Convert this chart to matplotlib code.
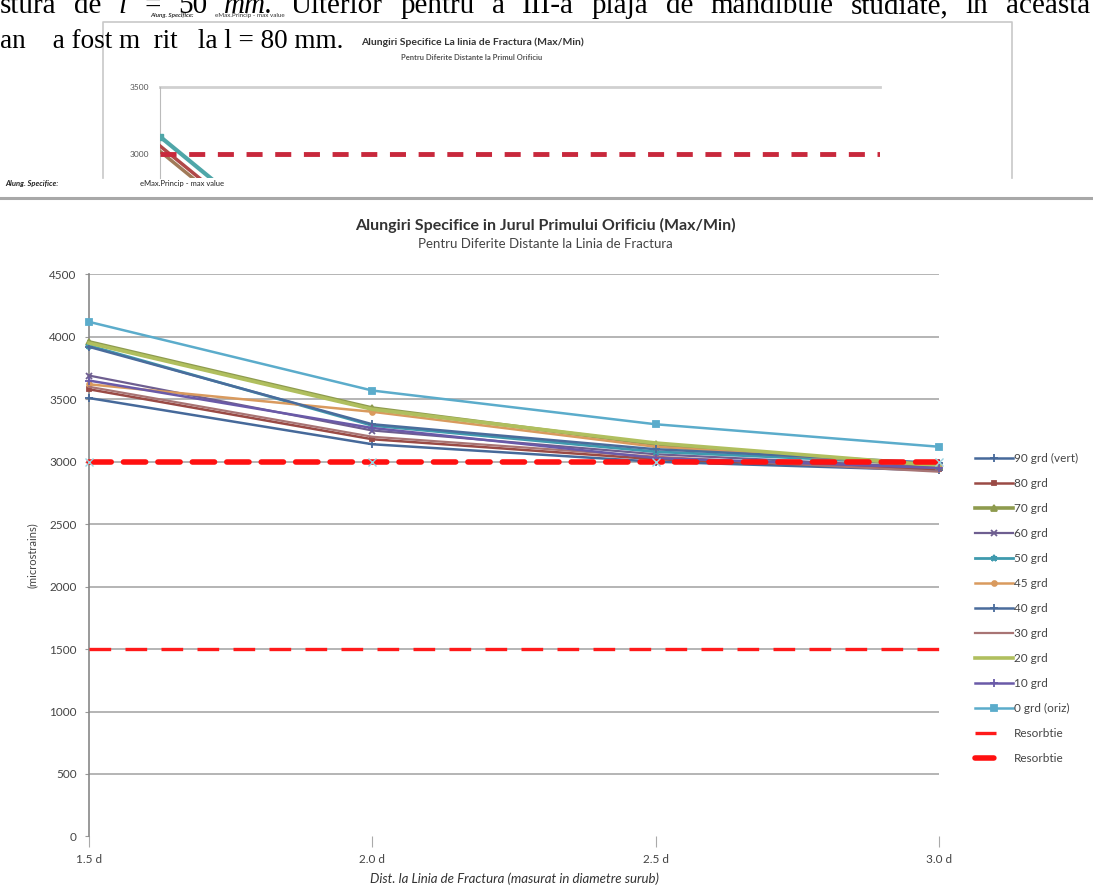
import matplotlib
matplotlib.use('Agg')
import matplotlib.pyplot as plt
from matplotlib.lines import Line2D

W, H = 1093, 888
def fx(x): return x / W
def fy(y): return 1 - y / H

# ---------------- data ----------------
categories = ['1.5 d', '2.0 d', '2.5 d', '3.0 d']
series_labels = ['90 grd (vert)', '80 grd', '70 grd', '60 grd', '50 grd', '45 grd',
                 '40 grd', '30 grd', '20 grd', '10 grd', '0 grd (oriz)']
grd90 = [3510, 3140, 3000, 2930]
grd80 = [3580, 3180, 3020, 2940]
grd70 = [3960, 3430, 3140, 2960]
grd60 = [3690, 3250, 3060, 2950]
grd50 = [3930, 3290, 3080, 2980]
grd45 = [3620, 3400, 3120, 2970]
grd40 = [3920, 3300, 3100, 2990]
grd30 = [3600, 3200, 3040, 2920]
grd20 = [3950, 3420, 3150, 2970]
grd10 = [3650, 3270, 3030, 2950]
grd0 = [4120, 3570, 3300, 3120]
resorbtie_hi = [3000, 3000, 3000, 3000]
resorbtie_lo = [1500, 1500, 1500, 1500]
resorbtie_labels = ['Resorbtie', 'Resorbtie']
yticks = [0, 500, 1000, 1500, 2000, 2500, 3000, 3500, 4000, 4500]

# partially visible chart above (cropped in the document)
upper_yticks = [3000, 3500]
upper_a = [3130, 1660]
upper_b = [3060, 1600]
upper_c = [3020, 1560]
upper_resorbtie = [3000, 3000, 3000, 3000]

# document text
line1_words = ['stura', 'de', 'l', '=', '50', 'mm.', 'Ulterior', 'pentru', 'a', 'III-a',
               'plaja', 'de', 'mandibule', 'studiate,', 'in', 'aceasta']
line1_italic = {2, 5}
line2_text = 'an    a fost m  rit   la l = 80 mm.'

series = [grd90, grd80, grd70, grd60, grd50, grd45, grd40, grd30, grd20, grd10, grd0]
styles = [
    dict(color='#46699A', marker='+', lw=1.8, ms=6),
    dict(color='#9A4A45', marker='s', lw=1.8, ms=3.5),
    dict(color='#8E9B4E', marker='^', lw=2.6, ms=4),
    dict(color='#6E5E90', marker='x', lw=1.6, ms=5),
    dict(color='#3F9AAE', marker='*', lw=2.0, ms=5),
    dict(color='#D99A5E', marker='o', lw=1.8, ms=3.5),
    dict(color='#4A6C9C', marker='+', lw=1.8, ms=6),
    dict(color='#A87474', marker=None, lw=1.6, ms=0),
    dict(color='#B0BF5E', marker=None, lw=2.6, ms=0),
    dict(color='#6A5AA8', marker='+', lw=1.8, ms=6),
    dict(color='#5BACCB', marker='s', lw=1.8, ms=4.5),
]

fig = plt.figure(figsize=(W / 100, H / 100), dpi=100)
fig.patch.set_facecolor('white')
renderer = fig.canvas.get_renderer()

serif = 'Liberation Serif'
sans = 'Lato'

# ---------------- document text on top (justified first line) ----------------
word_artists = []
for i, w in enumerate(line1_words):
    t = fig.text(0, fy(13), w, family=serif, fontsize=21, ha='left', va='baseline',
                 style='italic' if i in line1_italic else 'normal', color='black', zorder=5)
    word_artists.append(t)
widths = [t.get_window_extent(renderer).width for t in word_artists]
left_px, right_px = 0, 1090
gap = (right_px - left_px - sum(widths)) / (len(widths) - 1)
xpos = left_px
for t, wd in zip(word_artists, widths):
    t.set_x(fx(xpos))
    xpos += wd + gap

fig.text(fx(0), fy(48), line2_text, family=serif, fontsize=19.5, ha='left', va='baseline',
         color='black', zorder=5)
fig.text(fx(150), fy(15), 'Alung. Specifice:', family=sans, fontsize=4.5, style='italic',
         weight='bold', ha='left', va='center', color='#333333')
fig.text(fx(215), fy(15), 'eMax.Princip - max value', family=sans, fontsize=4.5,
         ha='left', va='center', color='#333333')

# border of the cropped upper chart
box = Line2D([fx(103), fx(103), fx(1012), fx(1012)], [fy(178), fy(22), fy(22), fy(178)],
             transform=fig.transFigure, color='#C8C8C8', lw=1.2, zorder=1)
fig.add_artist(box)
fig.text(fx(472), fy(42), 'Alungiri Specifice La linia de Fractura (Max/Min)', family=sans,
         fontsize=7.5, weight='bold', ha='center', va='center', color='#333333')
fig.text(fx(472), fy(58), 'Pentru Diferite Distante la Primul Orificiu', family=sans,
         fontsize=5.5, weight='bold', ha='center', va='center', color='#555555')

# upper (cropped) axes
u_top, u_bot = 87, 178
px_per_unit = 67 / 500
u_ymin = 3000 - (u_bot - 154) / px_per_unit
axu = fig.add_axes([fx(160), fy(u_bot), fx(880) - fx(160), fy(u_top) - fy(u_bot)])
axu.set_xlim(0, 3)
axu.set_ylim(u_ymin, 3500)
for s in ['top', 'right', 'bottom']:
    axu.spines[s].set_visible(False)
axu.spines['left'].set_color('#BBBBBB')
axu.set_xticks([])
axu.set_yticks(upper_yticks)
axu.set_yticklabels([str(v) for v in upper_yticks], family=sans, fontsize=6, color='#555555')
axu.tick_params(axis='y', length=0, pad=8)
axu.axhline(3500, color='#D0D0D0', lw=2, zorder=1, clip_on=False)
axu.plot(range(4), upper_resorbtie, color='#C8283C', lw=3.5, dashes=(3.3, 2.6), zorder=4)
axu.plot(range(2), upper_c, color='#A07A58', lw=2.5, zorder=3)
axu.plot(range(2), upper_b, color='#B04848', lw=2.5, zorder=3)
axu.plot(range(2), upper_a, color='#4FA6A8', lw=3, marker='s', ms=4, zorder=3)

fig.text(fx(5), fy(183), 'Alung. Specifice:', family=sans, fontsize=5.5, style='italic',
         weight='bold', ha='left', va='center', color='#222222')
fig.text(fx(140), fy(183), 'eMax.Princip - max value', family=sans, fontsize=5.5,
         ha='left', va='center', color='#222222')

# separator
sep = Line2D([0, 1], [fy(198), fy(198)], transform=fig.transFigure, color='#A8A8A8', lw=2.2)
fig.add_artist(sep)

# ---------------- main chart ----------------
fig.text(fx(545), fy(225), 'Alungiri Specifice in Jurul Primului Orificiu (Max/Min)',
         family=sans, fontsize=11.5, weight='bold', ha='center', va='center', color='#333333')
fig.text(fx(545), fy(244), 'Pentru Diferite Distante la Linia de Fractura',
         family=sans, fontsize=9.5, ha='center', va='center', color='#444444')

y0_px, y4500_px = 836.4, 274.4
ax = fig.add_axes([fx(89), fy(y0_px), fx(939) - fx(89), fy(y4500_px) - fy(y0_px)])
ax.set_xlim(0, 3)
ax.set_ylim(0, 4500)
for s in ['top', 'right', 'bottom']:
    ax.spines[s].set_visible(False)
ax.spines['left'].set_color('#888888')
ax.spines['left'].set_linewidth(1.2)
ax.set_yticks(yticks)
ax.set_yticklabels([str(v) for v in yticks], family=sans, fontsize=8.5, color='#444444')
ax.tick_params(axis='y', length=3, color='#999999', pad=6)
ax.set_xticks(range(4))
ax.set_xticklabels(categories, family=sans, fontsize=8.5, color='#444444')
ax.tick_params(axis='x', length=8, color='#AAAAAA', pad=5)
for v in yticks[1:]:
    ax.axhline(v, color='#A0A0A0', lw=1.1, zorder=1)

x = list(range(len(categories)))
handles = []
for data, lab, st in zip(series, series_labels, styles):
    ln, = ax.plot(x, data, color=st['color'], lw=st['lw'], marker=st['marker'],
                  ms=st['ms'], mew=1.3, label=lab, zorder=3, clip_on=False)
    handles.append(ln)

ax.plot(x, resorbtie_lo, color='#FF1A1A', lw=2.4, dashes=(6.5, 4.3), zorder=4, clip_on=False)
ax.plot(x, resorbtie_hi, color='#FF1010', lw=4, dashes=(4, 2.2), dash_capstyle='round',
        marker='x', ms=6, mec='#9AD3E0', mew=1, zorder=5, clip_on=False)

# legend proxies for the two red series (short single dash, as in the reference)
lo_proxy = Line2D([], [], color='#FF1A1A', lw=2.4, dashes=(6.3, 30))
hi_proxy = Line2D([], [], color='#FF1010', lw=4, dashes=(3.4, 20), dash_capstyle='round')
handles += [lo_proxy, hi_proxy]

ax.set_xlabel('Dist. la Linia de Fractura (masurat in diametre surub)', family=sans,
              fontsize=9.5, style='italic', color='#333333', labelpad=5)
fig.text(fx(32), fy(555), '(microstrains)', family=sans, fontsize=8, rotation=90,
         ha='center', va='center', color='#444444')

leg = fig.legend(handles, series_labels + resorbtie_labels, loc='upper left',
                 bbox_to_anchor=(fx(970), fy(448)), frameon=False,
                 prop={'family': sans, 'size': 8.5}, handlelength=3.2,
                 labelspacing=1.19, handletextpad=0.15, borderaxespad=0)
for t in leg.get_texts():
    t.set_color('#444444')

fig.savefig('out.png', dpi=100, facecolor='white')
